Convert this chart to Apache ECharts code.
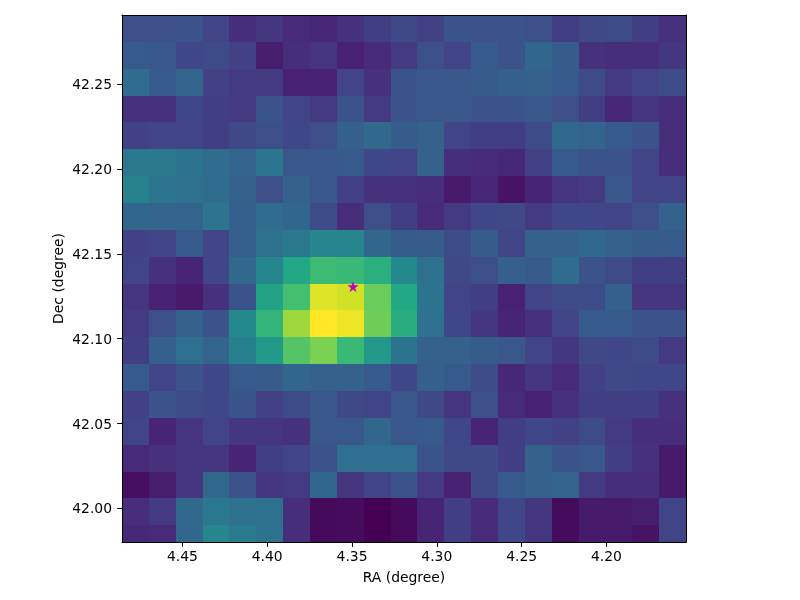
<!DOCTYPE html>
<html><head><meta charset="utf-8">
<style>html,body{margin:0;padding:0;background:#fff}#c{width:800px;height:600px}</style>
<script src="https://cdn.jsdelivr.net/npm/echarts@6/dist/echarts.min.js"></script>
</head><body><div id="c"></div>
<script>
const raTicks = [4.45, 4.40, 4.35, 4.30, 4.25, 4.20];
const decTicks = [42.00, 42.05, 42.10, 42.15, 42.20, 42.25];
const raRange = [4.1531, 4.4856];
const decRange = [41.9801, 42.2909];
const raCellWidth = 0.015834;
const decCellHeight = 0.01584;
const source = [4.3494, 42.1307];
const viridis = ['#440154','#482475','#414487','#355f8d','#2a788e','#21918c','#22a884','#44bf70','#7ad151','#bddf26','#fde725'];
// one row per Dec band, top to bottom; one value per RA band, left to right
const flux = [
[.24,.24,.26,.20,.13,.16,.12,.11,.14,.18,.22,.19,.26,.25,.26,.24,.18,.22,.23,.18,.14],
[.28,.27,.21,.23,.19,.08,.13,.15,.09,.12,.17,.24,.20,.28,.25,.33,.29,.14,.13,.13,.16],
[.35,.28,.32,.19,.17,.17,.09,.09,.20,.14,.26,.27,.27,.29,.30,.31,.28,.23,.17,.20,.23],
[.14,.14,.21,.18,.17,.26,.20,.17,.25,.17,.25,.27,.27,.25,.26,.27,.24,.18,.11,.15,.13],
[.19,.20,.20,.18,.22,.24,.21,.24,.30,.34,.29,.31,.20,.18,.18,.23,.34,.32,.28,.26,.13],
[.40,.40,.38,.35,.32,.39,.27,.27,.28,.21,.20,.31,.13,.12,.11,.19,.28,.26,.25,.20,.13],
[.44,.39,.37,.35,.31,.24,.31,.27,.19,.14,.14,.13,.07,.11,.05,.10,.15,.17,.27,.20,.20],
[.33,.32,.32,.39,.30,.35,.33,.23,.13,.24,.18,.12,.17,.21,.22,.17,.21,.21,.20,.24,.31],
[.19,.20,.28,.20,.30,.37,.40,.45,.45,.33,.29,.29,.23,.29,.20,.31,.31,.34,.31,.29,.28],
[.20,.14,.10,.21,.34,.46,.60,.68,.67,.63,.47,.37,.22,.24,.30,.28,.35,.25,.23,.18,.18],
[.15,.09,.07,.14,.26,.58,.70,.95,.93,.77,.60,.38,.20,.18,.09,.20,.23,.23,.30,.15,.15],
[.17,.24,.31,.25,.47,.65,.85,1.0,.975,.78,.62,.37,.21,.16,.10,.14,.20,.28,.28,.26,.25],
[.18,.30,.36,.32,.43,.54,.73,.80,.67,.53,.38,.31,.31,.29,.27,.20,.16,.22,.21,.23,.17],
[.28,.20,.25,.21,.28,.29,.33,.31,.31,.28,.21,.30,.28,.23,.11,.16,.12,.19,.22,.21,.21],
[.19,.25,.23,.21,.26,.19,.23,.27,.22,.20,.27,.22,.15,.24,.12,.09,.14,.18,.18,.18,.14],
[.20,.10,.15,.20,.16,.16,.14,.27,.27,.33,.27,.28,.21,.10,.18,.21,.19,.23,.17,.13,.13],
[.12,.14,.16,.16,.10,.18,.20,.25,.36,.36,.36,.26,.22,.22,.18,.31,.26,.27,.18,.14,.07],
[.04,.08,.15,.34,.25,.16,.17,.33,.15,.20,.26,.17,.09,.22,.28,.31,.32,.17,.13,.13,.07],
[.13,.17,.34,.40,.37,.37,.13,.025,.03,0,.025,.10,.18,.12,.21,.16,.03,.07,.07,.08,.20],
[.11,.12,.33,.45,.41,.38,.13,.025,.03,0,.025,.10,.18,.12,.21,.16,.03,.07,.07,.05,.20]
];

const cells = [];
flux.forEach((row, r) => row.forEach((v, c) => {
  const raLeft = raRange[1] - c * raCellWidth;
  const decTop = decRange[1] - r * decCellHeight;
  cells.push([raLeft, raLeft - raCellWidth, decTop, decTop - decCellHeight, v]);
}));

const FONT = '"DejaVu Sans"';
const lineStyle = {color:'#000', width:1};
const chart = echarts.init(document.getElementById('c'), null, {renderer:'canvas'});
chart.setOption({
  animation:false,
  backgroundColor:'#fff',
  textStyle:{fontFamily:FONT},
  grid:{left:122, top:15, width:564, height:527, containLabel:false},
  xAxis:[{
    type:'value', inverse:true, min:raRange[0], max:raRange[1], position:'bottom', z:10,
    name:'RA (degree)', nameLocation:'middle', nameGap:29,
    nameTextStyle:{color:'#000', fontSize:13.9, fontFamily:FONT},
    splitLine:{show:false},
    axisLine:{show:true, onZero:false, lineStyle},
    axisTick:{show:true, length:4.9, lineStyle, customValues:raTicks},
    axisLabel:{color:'#000', fontSize:13.9, fontFamily:FONT, margin:8, customValues:raTicks,
      formatter:v=>Number(v).toFixed(2)}
  },{
    type:'value', min:0, max:1, position:'top', z:10,
    splitLine:{show:false}, axisLine:{show:true, onZero:false, lineStyle},
    axisTick:{show:false}, axisLabel:{show:false}
  }],
  yAxis:[{
    type:'value', min:decRange[0], max:decRange[1], position:'left', z:10,
    name:'Dec (degree)', nameLocation:'middle', nameGap:56, nameRotate:90, nameMoveOverlap:false,
    nameTextStyle:{color:'#000', fontSize:13.9, fontFamily:FONT},
    splitLine:{show:false},
    axisLine:{show:true, onZero:false, lineStyle},
    axisTick:{show:true, length:4.9, lineStyle, customValues:decTicks},
    axisLabel:{color:'#000', fontSize:13.9, fontFamily:FONT, margin:10, customValues:decTicks,
      formatter:v=>'{t|'+Number(v).toFixed(2)+'}',
      rich:{t:{color:'#000', fontSize:13.9, fontFamily:FONT, padding:[3,0,0,0]}}}
  },{
    type:'value', min:0, max:1, position:'right', z:10,
    splitLine:{show:false}, axisLine:{show:true, onZero:false, lineStyle},
    axisTick:{show:false}, axisLabel:{show:false}
  }],
  visualMap:{show:false, type:'continuous', min:0, max:1, dimension:4, seriesIndex:0,
    inRange:{color:viridis}},
  series:[{
    type:'custom', z:2, silent:true,
    data:cells,
    encode:{x:[0,1], y:[2,3]},
    dimensions:['ra0','ra1','dec0','dec1','flux'],
    renderItem:function(params, api){
      const a = api.coord([api.value(0), api.value(2)]);
      const b = api.coord([api.value(1), api.value(3)]);
      const x0 = Math.round(a[0]), x1 = Math.round(b[0]);
      const y0 = Math.round(a[1]), y1 = Math.round(b[1]);
      const shape = echarts.graphic.clipRectByRect(
        {x:x0, y:y0, width:x1-x0, height:y1-y0},
        {x:params.coordSys.x, y:params.coordSys.y, width:params.coordSys.width, height:params.coordSys.height});
      if(!shape) return;
      return {type:'rect', shape, style:{fill:api.visual('color'), stroke:null}};
    }
  },{
    type:'scatter', z:5, silent:true,
    data:[source],
    symbol:'path://M50 0 L61.8 36.3 L100 36.3 L69.1 58.8 L80.9 95.1 L50 72.7 L19.1 95.1 L30.9 58.8 L0 36.3 L38.2 36.3 Z',
    symbolSize:11,
    itemStyle:{color:'#bf00bf', opacity:1}
  }]
});
</script></body></html>
